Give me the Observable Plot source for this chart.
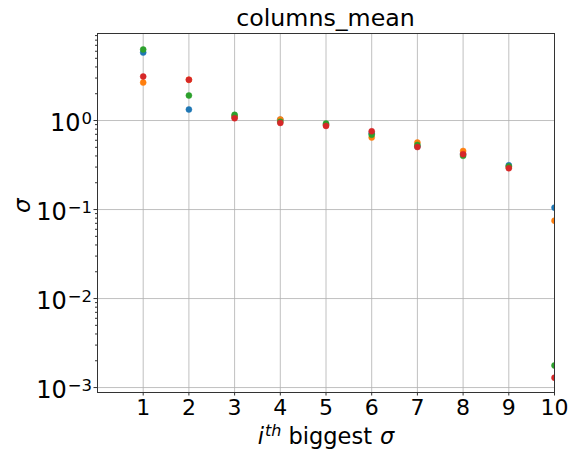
<!DOCTYPE html>
<html><head><meta charset="utf-8">
<script src="https://cdn.jsdelivr.net/npm/d3@7"></script>
<script src="https://cdn.jsdelivr.net/npm/@observablehq/plot@0.6"></script>
<style>
body{margin:0;background:#fff;font-family:"DejaVu Sans";}
#title{height:31px;box-sizing:border-box;padding-top:7px;padding-left:97px;width:554px;text-align:center;font-size:23.7px;line-height:23.7px;color:#000;white-space:nowrap;}
</style>
</head><body>
<div id="title">columns_mean</div>
<div id="chart"></div>
<script>
const ranks = [1,2,3,4,5,6,7,8,9,10];
const seriesNames = ["blue","orange","green","red"];
const seriesColors = ["#1f77b4","#ff7f0e","#2ca02c","#d62728"];
const blueVals   = [5.8, 1.33, 1.10, 1.02, 0.90, 0.72, 0.51, 0.42, 0.314, 0.105];
const orangeVals = [2.67, 2.87, 1.12, 1.03, 0.89, 0.644, 0.566, 0.455, 0.30, 0.075];
const greenVals  = [6.28, 1.91, 1.16, 0.97, 0.925, 0.693, 0.532, 0.401, 0.305, 0.00177];
const redVals    = [3.12, 2.87, 1.06, 0.94, 0.87, 0.757, 0.504, 0.419, 0.291, 0.00129];
const yTicks = [1e-3, 1e-2, 1e-1, 1];
const yMinor = [2e-3,3e-3,4e-3,5e-3,6e-3,7e-3,8e-3,9e-3,2e-2,3e-2,4e-2,5e-2,6e-2,7e-2,8e-2,9e-2,0.2,0.3,0.4,0.5,0.6,0.7,0.8,0.9,2,3,4,5,6,7,8,9];
const xLabelParts = ["i", "th", "biggest", "σ"];

const allVals = [blueVals, orangeVals, greenVals, redVals];
const dotMarks = allVals.map((vals, i) =>
  Plot.dot(vals.map((v, j) => ({x: ranks[j], y: v, s: seriesNames[i]})),
    {x: "x", y: "y", r: 3, fill: seriesColors[i], stroke: seriesColors[i], strokeWidth: 0.5, clip: true}));

const plot = Plot.plot({
  width: 578, height: 426,
  marginLeft: 97, marginRight: 24, marginTop: 2, marginBottom: 65,
  style: {fontFamily: "DejaVu Sans", fontSize: "22px", background: "#fff", color: "#000", overflow: "visible"},
  x: {domain: [0, 10], label: null},
  y: {type: "log", domain: [8.8e-4, 9.5], label: null},
  marks: [
    Plot.gridX(ranks, {stroke: "#b0b0b0", strokeOpacity: 1, strokeWidth: 0.8}),
    Plot.gridY(yTicks, {stroke: "#b0b0b0", strokeOpacity: 1, strokeWidth: 0.8}),
    Plot.axisX(ranks, {tickSize: 3.5, tickPadding: 3, fontSize: 22, label: null, stroke: "#333"}),
    Plot.axisY(yTicks, {tickSize: 3.5, tickPadding: 2, fontSize: 24, label: null, stroke: "#333",
      tickFormat: d => "10^" + Math.round(Math.log10(d))}),
    Plot.axisY(yMinor, {tickSize: 2, tickFormat: () => "", label: null, stroke: "#333"}),
    ...dotMarks,
    Plot.frame({stroke: "#333", strokeWidth: 1}),
    Plot.text(["σ"], {frameAnchor: "left", dx: -75, rotate: -90, fontSize: 23, fontStyle: "italic"}),
    Plot.text([xLabelParts.join("|")], {frameAnchor: "bottom", dy: 51, fontSize: 22.5})
  ]
});
document.getElementById("chart").appendChild(plot);

// superscripted y tick labels
d3.select(plot).selectAll('g[aria-label="y-axis tick label"] text').each(function() {
  const t = d3.select(this);
  const s = t.text();
  if (!s.startsWith("10^")) return;
  const exp = s.slice(3).replace("-", "\u2212");
  t.text(null);
  t.append("tspan").attr("dy", "3px").text("10");
  t.append("tspan").attr("dy", "-7px").attr("dx", "1px").attr("font-size", "16.5px").text(exp);
});
// x label with italic i, superscript th
d3.select(plot).selectAll("text").filter(function() { return this.textContent === xLabelParts.join("|"); }).each(function() {
  const t = d3.select(this);
  t.text(null);
  t.append("tspan").attr("font-style", "italic").text(xLabelParts[0]);
  t.append("tspan").attr("font-style", "italic").attr("font-size", "16px").attr("dx", "1px").attr("dy", "-8px").text(xLabelParts[1]);
  t.append("tspan").attr("dy", "8px").attr("dx", "7px").text(xLabelParts[2]);
  t.append("tspan").attr("font-style", "italic").attr("dx", "8px").text(xLabelParts[3]);
});
</script>
</body></html>
